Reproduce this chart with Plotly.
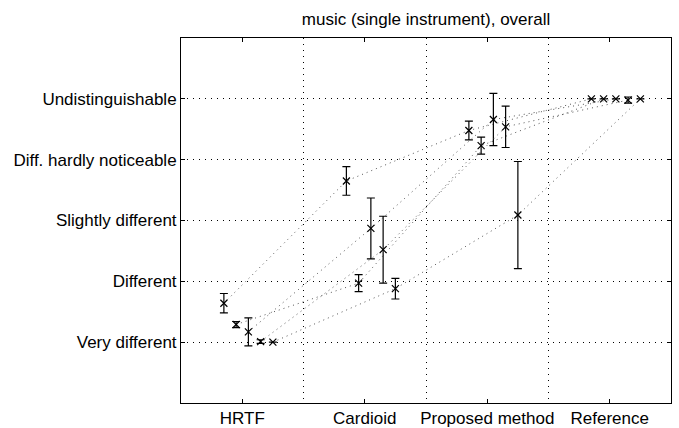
import plotly.graph_objects as go

categories = ["HRTF", "Cardioid", "Proposed method", "Reference"]
y_labels = ["Very different", "Different", "Slightly different",
            "Diff. hardly noticeable", "Undistinguishable"]
y_levels = [1, 2, 3, 4, 5]

s1_mean = [1.64, 3.65, 4.48, 5.00]
s1_err = [0.16, 0.235, 0.155, 0.0]
s2_mean = [1.29, 1.97, 4.23, 5.00]
s2_err = [0.05, 0.14, 0.14, 0.0]
s3_mean = [1.17, 2.87, 4.66, 5.00]
s3_err = [0.23, 0.50, 0.43, 0.0]
s4_mean = [1.01, 2.52, 4.54, 4.98]
s4_err = [0.03, 0.55, 0.34, 0.05]
s5_mean = [1.00, 1.88, 3.09, 5.00]
s5_err = [0.0, 0.17, 0.88, 0.0]

series = [(s1_mean, s1_err), (s2_mean, s2_err), (s3_mean, s3_err),
          (s4_mean, s4_err), (s5_mean, s5_err)]
offsets = [-0.15, -0.05, 0.05, 0.15, 0.25]

fig = go.Figure()
for (m, e), off in zip(series, offsets):
    xs = [i + 1 + off for i in range(len(categories))]
    fig.add_trace(go.Scatter(
        x=xs, y=m, mode="lines",
        line=dict(color="#555555", width=1, dash="1px,4px"),
        showlegend=False, hoverinfo="skip"))
    fig.add_trace(go.Scatter(
        x=xs, y=m, mode="markers",
        marker=dict(symbol="x-thin", size=7, line=dict(color="black", width=1.2), color="black"),
        error_y=dict(type="data", array=e, visible=True, color="black", thickness=1.2, width=4),
        showlegend=False))

fnt = "Liberation Sans, Arial, Helvetica, sans-serif"
axis_font = dict(family=fnt, size=17, color="black")
fig.update_layout(
    width=679, height=428,
    margin=dict(l=181, r=8, t=38, b=25, autoexpand=False),
    paper_bgcolor="white", plot_bgcolor="white",
    title=dict(text="music (single instrument), overall", x=0.5, xanchor="center",
               xref="paper", y=1, yref="container", yanchor="top", pad=dict(t=13),
               font=dict(family=fnt, size=17, color="black")),
    xaxis=dict(range=[0.5, 4.5], tickvals=[1, 2, 3, 4], ticktext=categories,
               ticks="inside", ticklen=4, tickcolor="black", showgrid=False,
               showline=True, linecolor="black", linewidth=1, mirror="ticks",
               zeroline=False, tickfont=axis_font, automargin=False,
               minor=dict(tickvals=[1.5, 2.5, 3.5], showgrid=True, gridcolor="black",
                          griddash="1px,5px", gridwidth=1, ticks="")),
    yaxis=dict(range=[0, 6], tickvals=y_levels, ticktext=y_labels,
               ticks="inside", ticklen=4, tickcolor="black", showgrid=True,
               gridcolor="black", griddash="1px,5px", gridwidth=1,
               showline=True, linecolor="black", linewidth=1, mirror="ticks",
               zeroline=False, tickfont=axis_font, automargin=False),
)
fig.write_html("out.html")
